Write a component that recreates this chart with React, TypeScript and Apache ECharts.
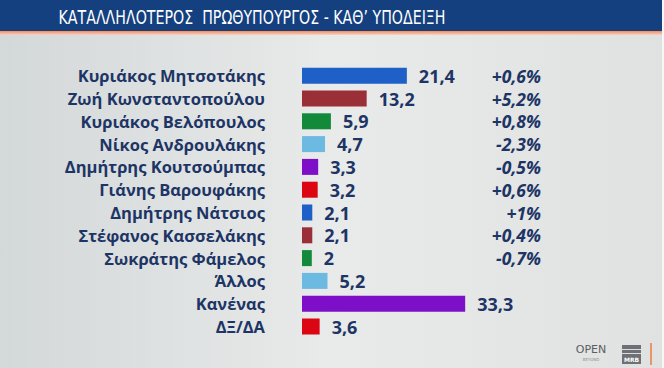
import React, { useEffect, useRef } from "react";
import * as echarts from "echarts";

const names = [
  "Κυριάκος Μητσοτάκης",
  "Ζωή Κωνσταντοπούλου",
  "Κυριάκος Βελόπουλος",
  "Νίκος Ανδρουλάκης",
  "Δημήτρης Κουτσούμπας",
  "Γιάνης Βαρουφάκης",
  "Δημήτρης Νάτσιος",
  "Στέφανος Κασσελάκης",
  "Σωκράτης Φάμελος",
  "Άλλος",
  "Κανένας",
  "ΔΞ/ΔΑ",
];
const values = [21.4, 13.2, 5.9, 4.7, 3.3, 3.2, 2.1, 2.1, 2, 5.2, 33.3, 3.6];
const changes = ["+0,6%", "+5,2%", "+0,8%", "-2,3%", "-0,5%", "+0,6%", "+1%", "+0,4%", "-0,7%", "", "", ""];
const barColors = [
  "#1f5fc8", "#9a2f38", "#13893a", "#6cb9e2", "#7e0fc9", "#dc0512",
  "#1f5fc8", "#9a2f38", "#13893a", "#6cb9e2", "#7e0fc9", "#dc0512",
];
const title = "ΚΑΤΑΛΛΗΛΟΤΕΡΟΣ  ΠΡΩΘΥΠΟΥΡΓΟΣ - ΚΑΘ’ ΥΠΟΔΕΙΞΗ";

const NAVY = "#1d3565";

export default function App() {
  const ref = useRef<HTMLDivElement>(null);
  useEffect(() => {
    if (!ref.current) return;
    const chart = echarts.init(ref.current, undefined, { renderer: "svg" });
    chart.setOption({
      animation: false,
      backgroundColor: {
        type: "linear", x: 0, y: 0, x2: 1, y2: 0,
        colorStops: [
          { offset: 0, color: "#d3d8d8" },
          { offset: 0.5, color: "#e9eaea" },
          { offset: 1, color: "#e0e1e1" },
        ],
      },
      graphic: [
        { type: "rect", shape: { x: 0, y: 0, width: 662, height: 31 }, style: { fill: "#14407f" }, silent: true },
        { type: "rect", shape: { x: 0, y: 30, width: 662, height: 1 }, style: { fill: "#2a3a5a" }, silent: true },
        {
          type: "rect", shape: { x: 0, y: 31, width: 662, height: 4 },
          style: {
            fill: {
              type: "linear", x: 0, y: 0, x2: 0, y2: 1,
              colorStops: [{ offset: 0, color: "#e9906f" }, { offset: 1, color: "#fbd2bf" }],
            },
          },
          silent: true,
        },
        { type: "rect", shape: { x: 662, y: 0, width: 2, height: 368 }, style: { fill: "#f6f6f6" }, silent: true },
        {
          type: "text", x: 252, y: 17, scaleX: 0.71,
          style: {
            text: title, fill: "#ffffff", font: '20px "DejaVu Sans", sans-serif',
            align: "center", verticalAlign: "middle",
          },
          silent: true,
        },
        {
          type: "text", x: 591, y: 349,
          style: { text: "OPEN", fill: "#5a5d62", font: '11px "DejaVu Sans", sans-serif', align: "center", verticalAlign: "middle" },
          silent: true,
        },
        {
          type: "text", x: 591, y: 359,
          style: { text: "BEYOND", fill: "#8a8d90", font: '4px "DejaVu Sans", sans-serif', align: "center", verticalAlign: "middle" },
          silent: true,
        },
        { type: "rect", shape: { x: 622, y: 345, width: 19, height: 19 }, style: { fill: "#6d7074" }, silent: true },
        { type: "rect", shape: { x: 622, y: 349, width: 19, height: 1 }, style: { fill: "#dcdcdc" }, silent: true },
        { type: "rect", shape: { x: 622, y: 353, width: 19, height: 1 }, style: { fill: "#dcdcdc" }, silent: true },
        {
          type: "text", x: 631.5, y: 359,
          style: { text: "MRB", fill: "#ffffff", font: 'bold 6px "DejaVu Sans", sans-serif', align: "center", verticalAlign: "middle" },
          silent: true,
        },
        { type: "rect", shape: { x: 650, y: 343, width: 2, height: 22 }, style: { fill: "#e8956c" }, silent: true },
      ],
      grid: { left: 302, top: 64.3, width: 196, height: 273.6, containLabel: false },
      xAxis: { type: "value", min: 0, max: 40, show: false },
      yAxis: [
        {
          type: "category", data: names, inverse: true,
          axisLine: { show: false }, axisTick: { show: false }, splitLine: { show: false },
          axisLabel: {
            interval: 0, margin: 37, color: NAVY, fontFamily: "Open Sans", fontWeight: "bold", fontSize: 16.5,
          },
        },
        {
          type: "category", data: changes, inverse: true, position: "right",
          axisLine: { show: false }, axisTick: { show: false }, splitLine: { show: false },
          axisLabel: {
            interval: 0, margin: 43, align: "right", color: NAVY, fontFamily: "Open Sans", fontWeight: "bold",
            fontStyle: "italic", fontSize: 17.5,
          },
        },
      ],
      series: [
        {
          type: "bar", data: values, barWidth: 16, yAxisIndex: 0,
          itemStyle: { color: (p: any) => barColors[p.dataIndex] },
          label: {
            show: true, position: "right", distance: 12, color: NAVY,
            fontFamily: "Open Sans", fontWeight: "bold", fontSize: 18,
            formatter: (p: any) => String(p.value).replace(".", ","),
          },
        },
      ],
    });
    return () => chart.dispose();
  }, []);
  return <div ref={ref} style={{ position: "absolute", left: 0, top: 0, width: 664, height: 368 }} />;
}
